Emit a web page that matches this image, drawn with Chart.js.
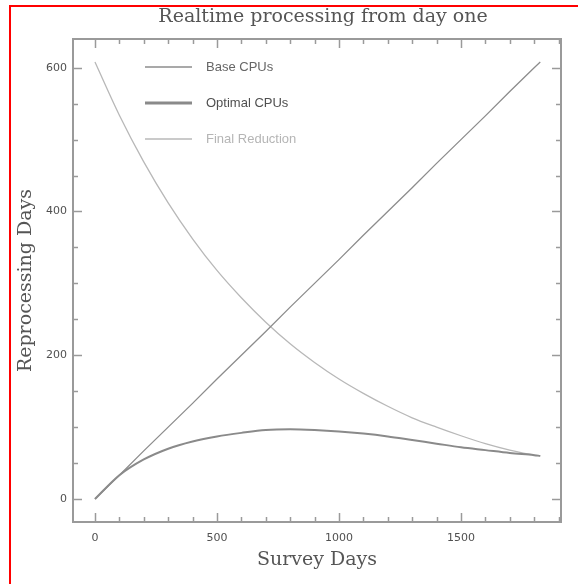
<!DOCTYPE html>
<html>
<head>
<meta charset="utf-8">
<title>Realtime processing from day one</title>
<script src="https://cdn.jsdelivr.net/npm/chart.js@4.4.1/dist/chart.umd.min.js"></script>
<style>
	html, body { margin: 0; padding: 0; background: #fff; }
	.chart-wrap { position: relative; width: 578px; height: 584px; overflow: hidden; }
	.chart-wrap canvas { position: absolute; left: 0; top: 0; }
	.red-edge { position: absolute; left: 9px; top: 5px; width: 700px; height: 700px; border-top: 2px solid #ff0000; border-left: 2px solid #ff0000; pointer-events: none; }
</style>
</head>
<body>
<div class="chart-wrap">
	<canvas id="chart"></canvas>
	<div class="red-edge"></div>
</div>
<script>
	// Survey days (x values)
	const surveyDays = [0, 100, 200, 300, 400, 500, 600, 700, 800, 900, 1000, 1100, 1200, 1300, 1400, 1500, 1600, 1700, 1800, 1825];

	// Reprocessing days per series
	const baseCpus = [0, 33, 67, 100, 133, 167, 200, 233, 267, 300, 333, 367, 400, 433, 467, 500, 533, 567, 600, 608];
	const optimalCpus = [0, 33, 55, 70, 80, 87, 92, 96, 97, 96, 94, 91, 87, 82, 77, 72, 68, 64, 61, 60];
	const finalReduction = [608, 534, 469, 412, 362, 318, 280, 246, 216, 190, 167, 147, 129, 113, 100, 88, 77, 68, 61, 60];

	// Tick labels
	const xTicks = [0, 500, 1000, 1500];
	const yTicks = [0, 200, 400, 600];

	const chartTitle = 'Realtime processing from day one';

	(() => {
		'use strict'

		const textColor = '#505050';
		const titleColor = '#555555';
		const frameColor = '#9a9a9a';

		// Helper to turn two arrays into x/y points
		function toPoints(xs, ys) {
			return xs.map((x, i) => ({ x: x, y: ys[i] }));
		}

		/******************** Frame plugin Start ********************/
		// Title, box round the plot with inward ticks on all four sides, and the legend
		const framePlugin = {
			id: 'frame',
			afterDraw(chart) {
				const ctx = chart.ctx;
				const area = chart.chartArea;
				const xs = chart.scales.x;
				const ys = chart.scales.y;

				ctx.save();

				// Title, centred a bit right of the canvas middle like the original
				ctx.fillStyle = titleColor;
				ctx.font = '19px "DejaVu Serif"';
				ctx.textAlign = 'center';
				ctx.textBaseline = 'middle';
				ctx.fillText(chartTitle, 323, 17);

				ctx.strokeStyle = frameColor;
				ctx.lineWidth = 2;
				ctx.strokeRect(area.left, area.top, area.right - area.left, area.bottom - area.top);

				ctx.lineWidth = 1.5;
				ctx.beginPath();
				// x ticks, minor every 100, major every 500
				for (let v = 0; v <= xs.max; v += 100) {
					const px = Math.round(xs.getPixelForValue(v)) + 0.5;
					const len = xTicks.includes(v) ? 9 : 5;
					ctx.moveTo(px, area.bottom);
					ctx.lineTo(px, area.bottom - len);
					ctx.moveTo(px, area.top);
					ctx.lineTo(px, area.top + len);
				}
				// y ticks, minor every 50, major every 200
				for (let v = 0; v <= ys.max; v += 50) {
					const py = Math.round(ys.getPixelForValue(v)) + 0.5;
					const len = yTicks.includes(v) ? 9 : 5;
					ctx.moveTo(area.left, py);
					ctx.lineTo(area.left + len, py);
					ctx.moveTo(area.right, py);
					ctx.lineTo(area.right - len, py);
				}
				ctx.stroke();

				// Legend inside the plot
				const legendText = ['#666666', '#505050', '#b5b5b5'];
				ctx.font = '13px "Liberation Sans"';
				ctx.textAlign = 'left';
				ctx.textBaseline = 'middle';
				chart.data.datasets.forEach((ds, i) => {
					const y = 67 + i * 36;
					ctx.strokeStyle = ds.borderColor;
					ctx.lineWidth = i === 1 ? 3 : 1.5;
					ctx.beginPath();
					ctx.moveTo(145, y);
					ctx.lineTo(192, y);
					ctx.stroke();
					ctx.fillStyle = legendText[i];
					ctx.fillText(ds.label, 206, y);
				});
				ctx.restore();
			}
		};
		/********************* Frame plugin End *********************/


		/******************** Chart Start ********************/
		const chartEl = document.getElementById('chart');
		chartEl.width = 578;
		chartEl.height = 584;

		const dataChart = {
			datasets: [
				{
					label: 'Base CPUs',
					data: toPoints(surveyDays, baseCpus),
					borderColor: '#8c8c8c',
					borderWidth: 1.3,
					tension: 0,
				},
				{
					label: 'Optimal CPUs',
					data: toPoints(surveyDays, optimalCpus),
					borderColor: '#8a8a8a',
					borderWidth: 2,
					cubicInterpolationMode: 'monotone',
				},
				{
					label: 'Final Reduction',
					data: toPoints(surveyDays, finalReduction),
					borderColor: '#b8b8b8',
					borderWidth: 1.3,
					cubicInterpolationMode: 'monotone',
				}
			]
		};

		const configChart = {
			type: 'line',
			data: dataChart,
			options: {
				responsive: false,
				animation: false,
				devicePixelRatio: 1,
				pointRadius: 0,
				layout: {
					padding: { left: 0, right: 17, top: 39, bottom: 0 }
				},
				scales: {
					x: {
						type: 'linear',
						min: -90,
						max: 1910,
						afterFit: (scale) => { scale.height = 62; },
						afterBuildTicks: (scale) => { scale.ticks = xTicks.map(v => ({ value: v })); },
						grid: { display: false, drawTicks: false },
						border: { display: false },
						ticks: {
							color: textColor,
							padding: 10,
							maxRotation: 0,
							callback: (v) => String(v),
							font: { family: 'DejaVu Sans', size: 11 }
						},
						title: {
							display: true,
							text: 'Survey Days',
							color: titleColor,
							padding: { top: 0, bottom: 13 },
							font: { family: 'DejaVu Serif', size: 19 }
						}
					},
					y: {
						type: 'linear',
						min: -32,
						max: 640,
						afterFit: (scale) => { scale.width = 73; },
						afterBuildTicks: (scale) => { scale.ticks = yTicks.map(v => ({ value: v })); },
						grid: { display: false, drawTicks: false },
						border: { display: false },
						ticks: {
							color: textColor,
							padding: 6,
							callback: (v) => String(v),
							font: { family: 'DejaVu Sans', size: 11 }
						},
						title: {
							display: true,
							text: 'Reprocessing Days',
							color: titleColor,
							padding: { top: 15, bottom: 0 },
							font: { family: 'DejaVu Serif', size: 19 }
						}
					}
				},
				plugins: {
					legend: {
						display: false
					},
					title: {
						display: false
					},
					tooltip: {
						enabled: false
					}
				}
			},
			plugins: [framePlugin]
		};

		const myChart = new Chart(chartEl, configChart);
		/********************* Chart End *********************/
	})()
</script>
</body>
</html>
